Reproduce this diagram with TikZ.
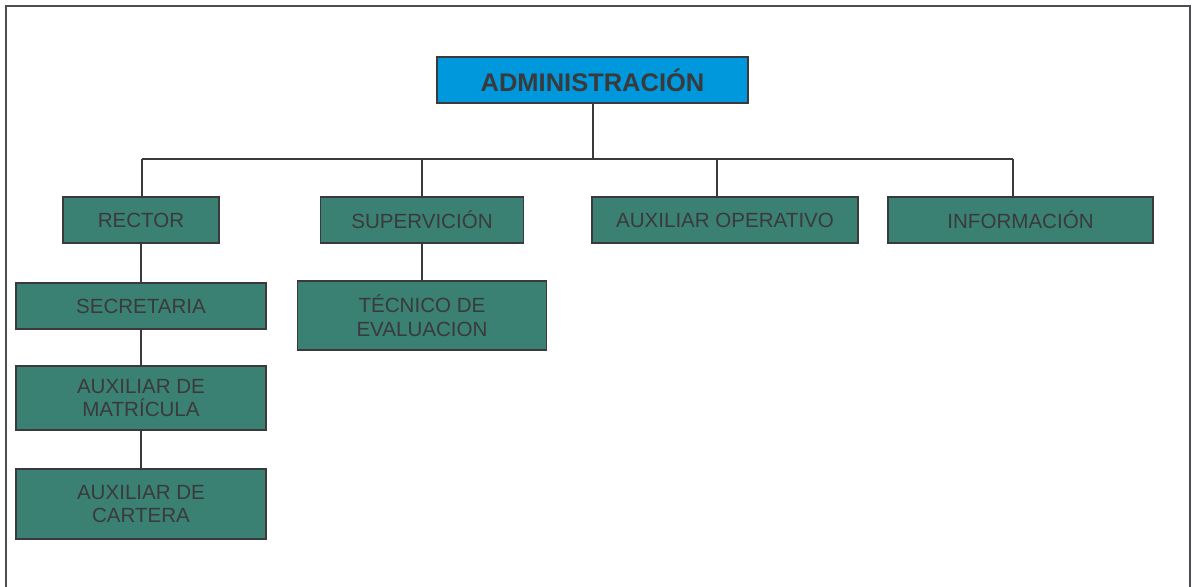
\documentclass[tikz,border=0pt]{standalone}
\usepackage{fontspec}
\setmainfont{Liberation Sans}
\usepackage{xcolor}
\usetikzlibrary{positioning,calc}

\definecolor{tealbox}{RGB}{58,128,115}
\definecolor{bluebox}{RGB}{0,152,220}
\definecolor{inkgray}{RGB}{58,58,60}

\begin{document}
\begin{tikzpicture}[
    x=0.02cm, y=-0.02cm,
    box/.style={draw=inkgray, line width=0.8pt, fill=#1, align=center,
                text=inkgray, inner sep=0pt,
                font=\fontsize{11.7}{13.6}\selectfont},
    box/.default=tealbox,
    link/.style={draw=inkgray, line width=0.75pt}
]
\useasboundingbox (0,0) rectangle (1192,587);
\draw[line width=1.1pt, inkgray!90] (6,600) -- (6,6) -- (1190,6) -- (1190,600);

\node[box=bluebox, minimum width=6.22cm, minimum height=0.92cm,
      font=\bfseries\fontsize{14.5}{16}\selectfont] (adm) at (592.5,80) {ADMINISTRACIÓN};

\node[box, minimum width=3.12cm, minimum height=0.92cm] (rector) at (141,220) {RECTOR};
\node[box, minimum width=4.06cm, minimum height=0.92cm] (superv) at (422,220) {SUPERVICIÓN};
\node[box, minimum width=5.32cm, minimum height=0.92cm] (auxop) at (725,220) {AUXILIAR OPERATIVO};
\node[box, minimum width=5.30cm, minimum height=0.92cm] (info) at (1020.5,220) {INFORMACIÓN};

\node[box, minimum width=5.00cm, minimum height=0.92cm] (secre) at (141,306) {SECRETARIA};
\node[box, minimum width=5.00cm, minimum height=1.28cm] (matri) at (141,398) {AUXILIAR DE\\MATRÍCULA};
\node[box, minimum width=5.00cm, minimum height=1.40cm] (carte) at (141,504) {AUXILIAR DE\\CARTERA};
\node[box, minimum width=4.98cm, minimum height=1.38cm] (tecni) at (422,315.5) {TÉCNICO DE\\EVALUACION};

% ramas
\coordinate (t1) at (142,159);
\coordinate (t2) at (422,159);
\coordinate (t3) at (717,159);
\coordinate (t4) at (1013,159);
\coordinate (tm) at (593,159);

\draw[link] (adm.south -| tm) -- (tm);
\draw[link] (t1) -- (t4);
\draw[link] (t1) -- (t1 |- rector.north);
\draw[link] (t2) -- (superv.north);
\draw[link] (t3) -- (t3 |- auxop.north);
\draw[link] (t4) -- (t4 |- info.north);

\draw[link] (rector) -- (secre);
\draw[link] (secre) -- (matri);
\draw[link] (matri) -- (carte);
\draw[link] (superv) -- (tecni);
\end{tikzpicture}
\end{document}
